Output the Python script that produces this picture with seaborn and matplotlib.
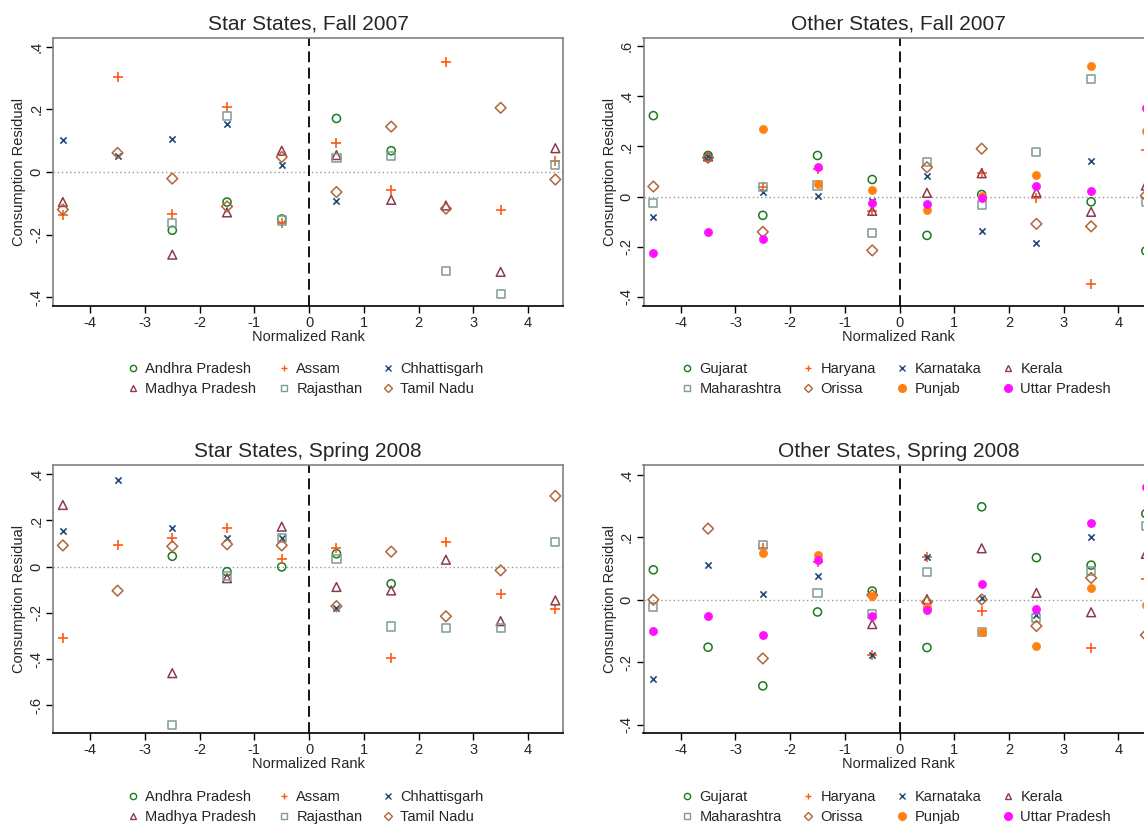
import numpy as np
import pandas as pd
import matplotlib
matplotlib.use("Agg")
import matplotlib.pyplot as plt
from matplotlib.lines import Line2D
import seaborn as sns

nan = np.nan
ranks = [-4.5, -3.5, -2.5, -1.5, -0.5, 0.5, 1.5, 2.5, 3.5, 4.5]

star_states = ["Andhra Pradesh", "Assam", "Chhattisgarh", "Madhya Pradesh", "Rajasthan", "Tamil Nadu"]
other_states = ["Gujarat", "Haryana", "Karnataka", "Kerala", "Maharashtra", "Orissa", "Punjab", "Uttar Pradesh"]

star_fall07 = {
    "Andhra Pradesh": [nan, nan, -0.186, -0.096, -0.150, 0.171, 0.068, nan, nan, nan],
    "Assam":          [-0.137, 0.303, -0.134, 0.207, -0.163, 0.094, -0.059, 0.352, -0.122, 0.034],
    "Chhattisgarh":   [0.103, 0.052, 0.107, 0.152, 0.021, -0.094, nan, nan, nan, nan],
    "Madhya Pradesh": [-0.096, nan, -0.264, -0.129, 0.068, 0.054, -0.089, -0.107, -0.319, 0.076],
    "Rajasthan":      [nan, nan, -0.162, 0.179, -0.155, 0.046, 0.052, -0.315, -0.391, 0.023],
    "Tamil Nadu":     [-0.120, 0.061, -0.021, -0.110, 0.048, -0.064, 0.145, -0.117, 0.205, -0.024],
}
other_fall07 = {
    "Gujarat":       [0.323, 0.164, -0.075, 0.164, 0.068, -0.155, 0.008, nan, -0.021, -0.217],
    "Haryana":       [nan, nan, 0.040, 0.110, -0.057, nan, 0.095, -0.007, -0.349, 0.187],
    "Karnataka":     [-0.080, 0.160, 0.019, 0.004, -0.019, 0.083, -0.139, -0.185, 0.141, nan],
    "Kerala":        [nan, 0.160, nan, nan, -0.057, 0.015, 0.093, 0.017, -0.061, 0.044],
    "Maharashtra":   [-0.027, nan, 0.039, 0.044, -0.147, 0.137, -0.033, 0.177, 0.468, -0.023],
    "Orissa":        [0.040, 0.155, -0.141, nan, -0.215, 0.117, 0.191, -0.109, -0.119, 0.004],
    "Punjab":        [nan, nan, 0.269, 0.051, 0.028, -0.055, 0.003, 0.085, 0.521, 0.263],
    "Uttar Pradesh": [-0.227, -0.143, -0.171, 0.119, -0.024, -0.029, -0.007, 0.043, 0.023, 0.353],
}
star_spring08 = {
    "Andhra Pradesh": [nan, nan, 0.045, -0.022, -0.001, 0.056, -0.074, nan, nan, nan],
    "Assam":          [-0.309, 0.095, 0.124, 0.166, 0.035, 0.081, -0.397, 0.105, -0.120, -0.184],
    "Chhattisgarh":   [0.155, 0.377, 0.168, 0.123, 0.123, -0.181, nan, nan, nan, nan],
    "Madhya Pradesh": [0.267, nan, -0.461, -0.050, 0.173, -0.088, -0.103, 0.030, -0.236, -0.146],
    "Rajasthan":      [nan, nan, -0.684, -0.039, 0.123, 0.033, -0.259, -0.266, -0.266, 0.105],
    "Tamil Nadu":     [0.092, -0.104, 0.088, 0.097, 0.092, -0.171, 0.065, -0.215, -0.016, 0.306],
}
other_spring08 = {
    "Gujarat":       [0.096, -0.152, -0.276, -0.039, 0.028, -0.153, 0.298, 0.135, 0.111, 0.276],
    "Haryana":       [nan, nan, 0.165, 0.120, -0.178, 0.138, -0.035, nan, -0.155, 0.068],
    "Karnataka":     [-0.253, 0.113, 0.017, 0.077, -0.178, 0.138, 0.006, -0.050, 0.200, nan],
    "Kerala":        [nan, nan, nan, nan, -0.078, 0.002, 0.165, 0.022, -0.040, 0.147],
    "Maharashtra":   [-0.024, nan, 0.175, 0.022, -0.045, 0.088, -0.103, -0.058, 0.093, 0.237],
    "Orissa":        [0.000, 0.228, -0.188, nan, 0.015, -0.007, 0.001, -0.084, 0.070, -0.113],
    "Punjab":        [nan, nan, 0.150, 0.143, 0.011, -0.022, -0.103, -0.149, 0.039, -0.017],
    "Uttar Pradesh": [-0.100, -0.052, -0.112, 0.129, -0.051, -0.033, 0.049, -0.029, 0.245, 0.363],
}

titles = ["Star States, Fall 2007", "Other States, Fall 2007",
          "Star States, Spring 2008", "Other States, Spring 2008"]
yticks_sets = [[-0.4, -0.2, 0, 0.2, 0.4],
               [-0.4, -0.2, 0, 0.2, 0.4, 0.6],
               [-0.6, -0.4, -0.2, 0, 0.2, 0.4],
               [-0.4, -0.2, 0, 0.2, 0.4]]
ylims = [(-0.428, 0.428), (-0.437, 0.633), (-0.72, 0.44), (-0.427, 0.432)]

# style per series: (marker, color, filled)
green = "#1b7a1b"
orange_plus = "#ff5a14"
navy = "#1f4a78"
maroon = "#8c3b4e"
teal_grey = "#7f9c93"
brown = "#b0653a"
styles = {
    "Andhra Pradesh": ("o", green, False),
    "Assam": ("+", orange_plus, None),
    "Chhattisgarh": ("x", navy, None),
    "Madhya Pradesh": ("^", maroon, False),
    "Rajasthan": ("s", teal_grey, False),
    "Tamil Nadu": ("D", brown, False),
    "Gujarat": ("o", green, False),
    "Haryana": ("+", orange_plus, None),
    "Karnataka": ("x", navy, None),
    "Kerala": ("^", maroon, False),
    "Maharashtra": ("s", teal_grey, False),
    "Orissa": ("D", brown, False),
    "Punjab": ("o", "#ff8210", True),
    "Uttar Pradesh": ("o", "#ff10ff", True),
}
sizes = {"o": 34, "+": 44, "x": 20, "^": 40, "s": 34, "D": 30}

sns.set_theme(style="ticks")
plt.rcParams["font.family"] = ["Liberation Sans", "DejaVu Sans"]

W, H = 1144, 826
fig = plt.figure(figsize=(W / 100, H / 100), dpi=100)

def frac(l, t, r, b):
    return [l / W, 1 - b / H, (r - l) / W, (b - t) / H]

boxes = [frac(53, 38, 563, 306), frac(643.5, 38, 1153.5, 306),
         frac(53, 465, 563, 733), frac(643.5, 465, 1153.5, 733)]
panels = [(star_fall07, star_states), (other_fall07, other_states),
          (star_spring08, star_states), (other_spring08, other_states)]
# legend column marker centres (figure px) and first-row top (figure px)
star_cols = [133, 284, 388]
other_cols = [687, 808, 902, 1008]
legend_cols = [star_cols, other_cols, star_cols, other_cols]
legend_top = [362, 362, 790, 790]

FS = 10.5
px_per_pt = 100 / 72.0

for i, (box, (data, states)) in enumerate(zip(boxes, panels)):
    ax = fig.add_axes(box)
    ax.axhline(0, color="#999999", ls=(0, (1, 2)), lw=1.0, zorder=1)
    ax.axvline(0, color="black", ls=(0, (6, 3)), lw=1.3, zorder=1)
    for st in states:
        df = pd.DataFrame({"rank": ranks, "resid": data[st]}).dropna()
        m, c, filled = styles[st]
        if filled is None:
            sns.scatterplot(data=df, x="rank", y="resid", ax=ax, marker=m, color=c,
                            s=sizes[m], linewidth=1.2, zorder=3)
        elif filled:
            sns.scatterplot(data=df, x="rank", y="resid", ax=ax, marker=m,
                            facecolor=c, edgecolor=c, s=sizes[m], linewidth=0.5, zorder=3)
        else:
            sns.scatterplot(data=df, x="rank", y="resid", ax=ax, marker=m,
                            facecolor="none", edgecolor=c, s=sizes[m], linewidth=1.1, zorder=3)
    ax.set_xlim(-4.68, 4.64)
    ax.set_ylim(*ylims[i])
    ax.set_xticks(range(-4, 5))
    ax.set_xticklabels([str(v) for v in range(-4, 5)], fontsize=FS)
    yt = yticks_sets[i]
    ax.set_yticks(yt)
    ax.set_yticklabels([("0" if v == 0 else (("-" if v < 0 else "") + ("%.1f" % abs(v)).lstrip("0"))) for v in yt],
                       fontsize=FS, rotation=90, va="center")
    ax.tick_params(axis="both", direction="out", length=5, width=1, color="black", pad=2)
    for side in ["top", "right", "left"]:
        ax.spines[side].set_color("#808080")
        ax.spines[side].set_linewidth(1.2)
    ax.spines["bottom"].set_color("black")
    ax.spines["bottom"].set_linewidth(1.2)
    ax.set_xlabel("Normalized Rank", fontsize=FS, labelpad=0)
    ax.set_ylabel("Consumption Residual", fontsize=FS, labelpad=2)
    ax.set_title(titles[i], fontsize=15, pad=6)
    ax.grid(False)

    # legend: one small legend per column, placed at fixed column positions
    ncol = len(legend_cols[i])
    for cidx, xc in enumerate(legend_cols[i]):
        col_states = [states[cidx], states[ncol + cidx]]
        handles = []
        for st in col_states:
            m, c, filled = styles[st]
            if filled is None:
                h = Line2D([], [], marker=m, ls="none", color=c, markersize=5, markeredgewidth=1.0)
            elif filled:
                h = Line2D([], [], marker=m, ls="none", color=c, markerfacecolor=c, markersize=5.5)
            else:
                h = Line2D([], [], marker=m, ls="none", color=c, markerfacecolor="none",
                           markersize=4.5 if m != "D" else 4.2, markeredgewidth=1.0)
            handles.append(h)
        left_px = xc - 0.5 * FS * px_per_pt
        fig.legend(handles, col_states, loc="upper left",
                   bbox_to_anchor=(left_px / W, 1 - legend_top[i] / H),
                   bbox_transform=fig.transFigure,
                   frameon=False, fontsize=FS, handlelength=1.0, handletextpad=0.35,
                   labelspacing=0.42, borderpad=0, borderaxespad=0)

fig.savefig("out.png", dpi=100)
